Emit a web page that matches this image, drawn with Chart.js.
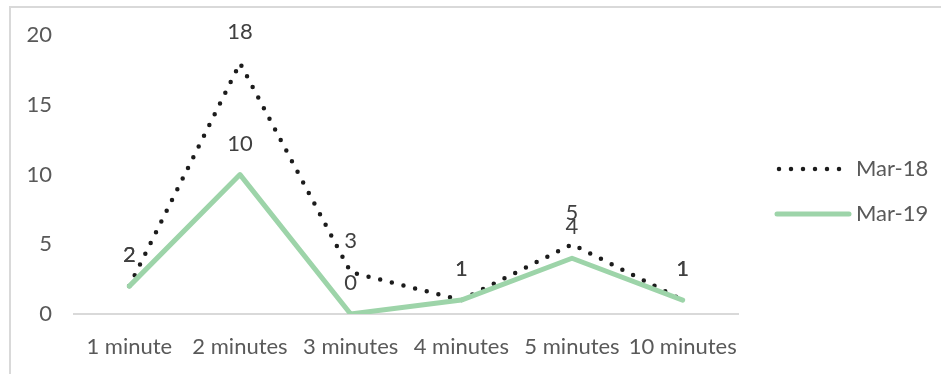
<!DOCTYPE html>
<html>
<head>
<meta charset="utf-8">
<script src="https://cdn.jsdelivr.net/npm/chart.js@4/dist/chart.umd.min.js"></script>
<style>
  html, body { margin: 0; padding: 0; background: #ffffff; }
  #wrap { position: relative; width: 941px; height: 374px; overflow: hidden; }
  #frame { position: absolute; left: 9px; top: 6px; width: 960px; height: 400px;
           border-top: 2px solid #d9d9d9; border-left: 2px solid #d9d9d9; box-sizing: border-box; }
  canvas { position: absolute; left: 0; top: 0; }
</style>
</head>
<body>
<div id="wrap">
  <div id="frame"></div>
  <canvas id="chart" width="941" height="374"></canvas>
</div>
<script>
// Response-time buckets and counts per survey month
const categories = ['1 minute', '2 minutes', '3 minutes', '4 minutes', '5 minutes', '10 minutes'];
const seriesNames = ['Mar-18', 'Mar-19'];
const mar18 = [2, 18, 3, 1, 5, 1];
const mar19 = [2, 10, 0, 1, 4, 1];
const yTicks = [0, 5, 10, 15, 20];

const FONT = 'Lato, "Liberation Sans", sans-serif';
const AXIS_TEXT = '#595959';
const LABEL_TEXT = '#404040';

// Value labels above every point
const valueLabels = {
  id: 'valueLabels',
  afterDatasetsDraw(chart) {
    const ctx = chart.ctx;
    ctx.save();
    ctx.font = '22px ' + FONT;
    ctx.fillStyle = LABEL_TEXT;
    ctx.textAlign = 'center';
    ctx.textBaseline = 'middle';
    chart.data.datasets.forEach((ds, i) => {
      const meta = chart.getDatasetMeta(i);
      meta.data.forEach((pt, j) => {
        ctx.fillText(String(ds.data[j]), pt.x, pt.y - 31);
      });
    });
    ctx.restore();
  }
};

// Legend on the right, samples styled like the series lines
const sideLegend = {
  id: 'sideLegend',
  afterDraw(chart) {
    const ctx = chart.ctx;
    const x0 = chart.chartArea.right + 41;
    const rows = [169, 214];
    ctx.save();
    chart.data.datasets.forEach((ds, i) => {
      const y = rows[i];
      ctx.beginPath();
      ctx.strokeStyle = ds.borderColor;
      ctx.lineWidth = ds.borderWidth;
      ctx.lineCap = ds.borderCapStyle;
      ctx.setLineDash(ds.borderDash || []);
      if (ds.borderDash && ds.borderDash.length) {
        ctx.moveTo(x0, y);
        ctx.lineTo(x0 + 62, y);
      } else {
        ctx.moveTo(x0 - 2, y);
        ctx.lineTo(x0 + 70, y);
      }
      ctx.stroke();
      ctx.setLineDash([]);
      ctx.font = '22px ' + FONT;
      ctx.fillStyle = AXIS_TEXT;
      ctx.textAlign = 'left';
      ctx.textBaseline = 'middle';
      ctx.fillText(ds.label, x0 + 77, y);
    });
    ctx.restore();
  }
};

new Chart(document.getElementById('chart'), {
  type: 'line',
  data: {
    labels: categories,
    datasets: [
      {
        label: seriesNames[0],
        data: mar18,
        borderColor: '#1c1c1c',
        borderWidth: 4.5,
        borderDash: [0, 12],
        borderCapStyle: 'round',
        borderJoinStyle: 'round',
        pointRadius: 0,
        tension: 0,
        order: 1
      },
      {
        label: seriesNames[1],
        data: mar19,
        borderColor: '#9dd4a9',
        borderWidth: 5,
        borderCapStyle: 'round',
        borderJoinStyle: 'round',
        pointRadius: 0,
        tension: 0,
        order: 0
      }
    ]
  },
  options: {
    responsive: false,
    animation: false,
    devicePixelRatio: 1,
    layout: { padding: { top: 34, right: 203, bottom: 0, left: 0 } },
    plugins: { legend: { display: false }, tooltip: { enabled: false } },
    scales: {
      x: {
        offset: true,
        grid: { display: false, drawTicks: false },
        border: { display: true, color: '#d9d9d9', width: 2 },
        ticks: { color: AXIS_TEXT, font: { family: FONT, size: 22 }, padding: 20, maxRotation: 0, autoSkip: false },
        afterFit(scale) { scale.height = 60; }
      },
      y: {
        min: 0,
        max: 20,
        grid: { display: false, drawTicks: false },
        border: { display: false },
        afterBuildTicks(scale) { scale.ticks = yTicks.map(v => ({ value: v })); },
        ticks: { color: AXIS_TEXT, font: { family: FONT, size: 22 }, padding: 22 },
        afterFit(scale) { scale.width = 74; }
      }
    }
  },
  plugins: [valueLabels, sideLegend]
});
</script>
</body>
</html>
